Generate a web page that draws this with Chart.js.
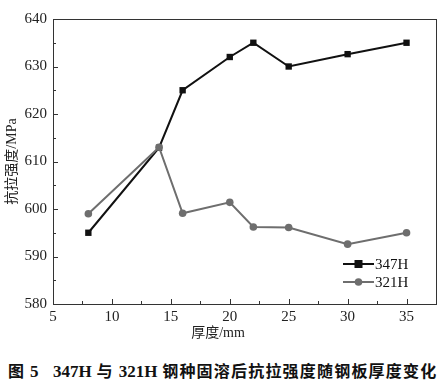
<!DOCTYPE html>
<html><head><meta charset="utf-8">
<script src="https://cdn.jsdelivr.net/npm/chart.js@4"></script>
<style>
html,body{margin:0;padding:0;background:#fff;}
#wrap{position:relative;width:443px;height:390px;overflow:hidden;}
#c{position:absolute;left:0;top:0;}
#caption{position:absolute;left:8px;top:360px;white-space:pre;font-size:16px;font-weight:bold;color:#111;
  font-family:"Noto Sans CJK SC",sans-serif;line-height:20px;letter-spacing:1.2px;}
#caption .n{font-family:"Liberation Serif","Times New Roman",serif;font-size:17px;letter-spacing:0;}
</style></head><body>
<div id="wrap">
<canvas id="c" width="443" height="350"></canvas>
<div id="caption">图 <span class="n">5</span>   <span class="n">347H</span> 与 <span class="n">321H</span> 钢种固溶后抗拉强度随钢板厚度变化</div>
</div>
<script>
const thickness = [8, 14, 16, 20, 22, 25, 30, 35];
const s347H = [595, 612.9, 625, 632, 635, 630, 632.6, 635];
const s321H = [599, 613, 599.1, 601.4, 596.2, 596.1, 592.6, 595];
const xTicks = [5, 10, 15, 20, 25, 30, 35];
const yTicks = [580, 590, 600, 610, 620, 630, 640];
const seriesNames = ['347H', '321H'];
const xTitle = '厚度/mm';
const yTitle = '抗拉强度/MPa';

const serif = "'Liberation Serif', 'Times New Roman', serif";
const cjk = "'Liberation Serif', 'Noto Sans CJK SC', serif";
const black = '#111111';
const gray = '#6e6e6e';

Chart.defaults.font.family = serif;
Chart.defaults.font.size = 15;
Chart.defaults.color = '#222';

const tickPlugin = {
  id: 'frameTicks',
  afterDatasetsDraw(chart) {
    const ctx = chart.ctx, a = chart.chartArea;
    const xs = chart.scales.x, ys = chart.scales.y;
    ctx.save();
    ctx.strokeStyle = '#333';
    ctx.lineWidth = 1;
    ctx.strokeRect(Math.round(a.left) + 0.5, Math.round(a.top) + 0.5, Math.round(a.right - a.left), Math.round(a.bottom - a.top));
    ctx.beginPath();
    xTicks.forEach((v) => {
      const px = Math.round(xs.getPixelForValue(v)) + 0.5;
      ctx.moveTo(px, a.bottom); ctx.lineTo(px, a.bottom - 5);
      const mv = v + 2.5;
      if (mv < xs.max) {
        const mx = Math.round(xs.getPixelForValue(mv)) + 0.5;
        ctx.moveTo(mx, a.bottom); ctx.lineTo(mx, a.bottom - 3);
      }
    });
    yTicks.forEach((v, i) => {
      const py = Math.round(ys.getPixelForValue(v)) + 0.5;
      ctx.moveTo(a.left, py); ctx.lineTo(a.left + 5, py);
      if (i < yTicks.length - 1) {
        const my = Math.round(ys.getPixelForValue(v + 5)) + 0.5;
        ctx.moveTo(a.left, my); ctx.lineTo(a.left + 3, my);
      }
    });
    ctx.stroke();

    const ds = chart.data.datasets;
    [0, 1].forEach((di, k) => {
      const d = ds[di];
      const y = a.bottom - 40 + k * 18;
      const x0 = a.right - 93, x1 = a.right - 62;
      ctx.strokeStyle = d.borderColor; ctx.lineWidth = d.borderWidth;
      ctx.beginPath(); ctx.moveTo(x0, y); ctx.lineTo(x1, y); ctx.stroke();
      ctx.fillStyle = d.pointBackgroundColor;
      const cx = (x0 + x1) / 2;
      if (d.pointStyle === 'rect') {
        ctx.fillRect(cx - 4, y - 4, 8, 8);
      } else {
        ctx.beginPath(); ctx.arc(cx, y, 3.8, 0, Math.PI * 2); ctx.fill();
      }
      ctx.fillStyle = '#111';
      ctx.font = '15px ' + serif;
      ctx.textBaseline = 'middle';
      ctx.textAlign = 'left';
      ctx.fillText(d.label, x1 + 1, y + 1);
    });
    ctx.restore();
  }
};

function build() {
new Chart(document.getElementById('c'), {
  type: 'scatter',
  data: {
    datasets: [
      {
        label: seriesNames[0],
        data: thickness.map((x, i) => ({x, y: s347H[i]})),
        showLine: true, borderColor: black, backgroundColor: black,
        pointBackgroundColor: black, pointBorderColor: black,
        borderWidth: 2, pointStyle: 'rect', pointRadius: 4.5, pointBorderWidth: 0,
        order: 1
      },
      {
        label: seriesNames[1],
        data: thickness.map((x, i) => ({x, y: s321H[i]})),
        showLine: true, borderColor: gray, backgroundColor: gray,
        pointBackgroundColor: gray, pointBorderColor: gray,
        borderWidth: 2, pointStyle: 'circle', pointRadius: 3.8, pointBorderWidth: 0,
        order: 0
      }
    ]
  },
  options: {
    responsive: false,
    animation: false,
    layout: { padding: { left: 0, right: 7, top: 19, bottom: 4 } },
    plugins: {
      legend: { display: false }, tooltip: { enabled: false },
      title: { display: true, position: 'bottom', text: xTitle, color: '#222',
               padding: { top: 4, bottom: 4 }, font: { family: cjk, size: 14, weight: 'normal' } }
    },
    scales: {
      x: {
        type: 'linear', min: 5, max: 37.5,
        afterBuildTicks: s => { s.ticks = xTicks.map(v => ({value: v})); },
        afterFit: s => { s.height = 17.2; },
        grid: { display: false, drawTicks: false },
        border: { display: false },
        ticks: { padding: 4, color: '#222', font: { family: serif, size: 15 }, maxRotation: 0 }
      },
      y: {
        type: 'linear', min: 580, max: 640,
        afterBuildTicks: s => { s.ticks = yTicks.map(v => ({value: v})); },
        afterFit: s => { s.width = 53; },
        grid: { display: false, drawTicks: false },
        border: { display: false },
        ticks: { padding: 6, color: '#222', font: { family: serif, size: 15 } },
        title: { display: true, text: yTitle, color: '#222', padding: { top: 4, bottom: 2 },
                 font: { family: cjk, size: 14 } }
      }
    }
  },
  plugins: [tickPlugin]
});
}
build();
</script>
</body></html>
